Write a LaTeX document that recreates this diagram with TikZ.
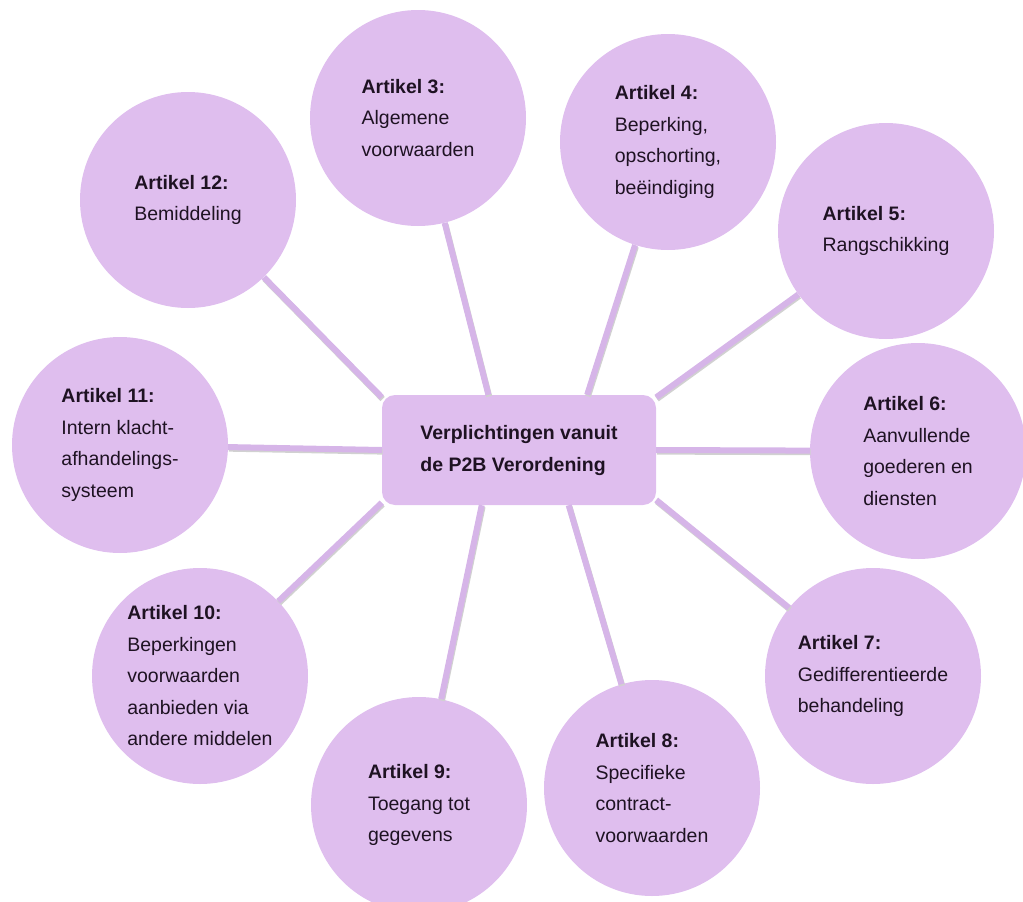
\documentclass[tikz,border=0pt]{standalone}
\usepackage{fontspec}
\setmainfont{Liberation Sans}
\definecolor{lavendel}{RGB}{223,190,238}
\definecolor{lijnkleur}{RGB}{214,181,232}
\definecolor{tekstkleur}{RGB}{30,18,34}

\begin{document}
\begin{tikzpicture}
            [x=1pt, y=-1pt,
             artikel/.style={shape=circle, fill=lavendel, draw=none, minimum size=216pt,
                             inner sep=2pt, align=left, text=tekstkleur,
                             font=\fontsize{19.5}{31.5}\selectfont},
             kern/.style={shape=rectangle, rounded corners=13pt, fill=lavendel, draw=none,
                          minimum width=274pt, minimum height=110pt, align=left,
                          text=tekstkleur, font=\fontsize{19.5}{32}\selectfont\bfseries},
             verbinding/.style={draw=lijnkleur, line width=6pt,
                                preaction={draw=black!18, line width=6pt,
                                           transform canvas={shift={(0.8pt,-1.6pt)}}}}]
            \useasboundingbox (0,0) rectangle (1023,902);

            \node[kern] (box) at (519, 450) {Verplichtingen vanuit\\de P2B Verordening};

            \node[artikel] (a3) at (418, 118) {\textbf{Artikel 3:}\\Algemene\\voorwaarden};
            \node[artikel] (a4) at (668, 142) {\textbf{Artikel 4:}\\Beperking,\\opschorting,\\beëindiging};
            \node[artikel] (a5) at (886, 231) {\textbf{Artikel 5:}\\Rangschikking};
            \node[artikel] (a6) at (918, 451) {\textbf{Artikel 6:}\\Aanvullende\\goederen en\\diensten};
            \node[artikel] (a7) at (873, 676) {\textbf{Artikel 7:}\\Gedifferentieerde\\behandeling};
            \node[artikel] (a8) at (652, 788) {\textbf{Artikel 8:}\\Specifieke\\contract-\\voorwaarden};
            \node[artikel] (a9) at (419, 805) {\textbf{Artikel 9:}\\Toegang tot\\gegevens};
            \node[artikel] (a10) at (200, 676) {\textbf{Artikel 10:}\\Beperkingen\\voorwaarden\\aanbieden via\\andere middelen};
            \node[artikel] (a11) at (120, 445) {\textbf{Artikel 11:}\\Intern klacht-\\afhandelings-\\systeem};
            \node[artikel] (a12) at (188, 200) {\textbf{Artikel 12:}\\Bemiddeling};

            \path (box.119) edge[verbinding] (a3);
            \path (box.39) edge[verbinding] (a4);
            \path (box.21) edge[verbinding] (a5);
            \path (box.east) edge[verbinding] (a6);
            \path (box.-20) edge[verbinding] (a7);
            \path (box.-48) edge[verbinding] (a8);
            \path (box.-124) edge[verbinding] (a9);
            \path (box.-159) edge[verbinding] (a10);
            \path (box.west) edge[verbinding] (a11);
            \path (box.159) edge[verbinding] (a12);
        \end{tikzpicture}
\end{document}
